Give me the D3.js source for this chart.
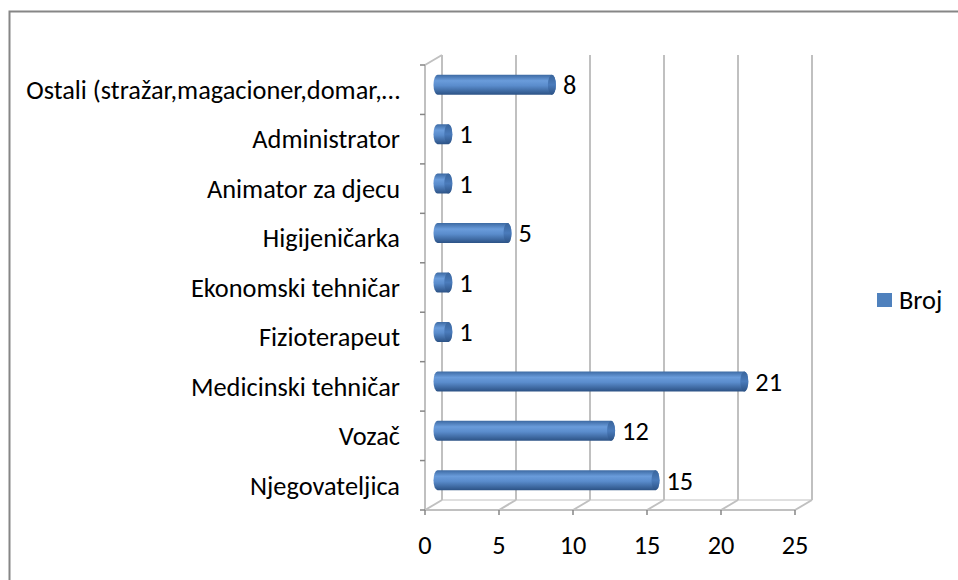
<!DOCTYPE html>
<html>
<head>
<script src="https://d3js.org/d3.v7.min.js"></script>
<style>
  body { margin: 0; background: #fff; }
  text { font-family: Carlito, "Open Sans", Lato, sans-serif; fill: #000; }
</style>
</head>
<body>
<div id="chart"></div>
<script>
// data
var categories = ["Njegovateljica", "Vozač", "Medicinski tehničar", "Fizioterapeut",
  "Ekonomski tehničar", "Higijeničarka", "Animator za djecu", "Administrator",
  "Ostali (stražar,magacioner,domar,…"];
var values = [15, 12, 21, 1, 1, 5, 1, 1, 8];
var xTicks = [0, 5, 10, 15, 20, 25];
var seriesName = "Broj";

var width = 958, height = 580;
var depthX = 17, depthY = -10;   // offset of the back wall

var svg = d3.select("#chart").append("svg")
    .attr("width", width)
    .attr("height", height);

// pick a font size so the labels come out as wide as in the original
var probe = svg.append("text").attr("font-size", 20).text("Njegovateljica");
var fs = 20 * 150 / probe.node().getComputedTextLength();
probe.remove();

// chart frame
svg.append("rect")
    .attr("x", 9.5).attr("y", 11.5)
    .attr("width", 960).attr("height", 580)
    .attr("fill", "none")
    .attr("stroke", "#868686")
    .attr("stroke-width", 2);

var x = d3.scaleLinear().domain([0, 25]).range([425, 795]);
var y = d3.scaleBand().domain(categories).range([510, 65]);

var defs = svg.append("defs");
var grad = defs.append("linearGradient").attr("id", "cyl")
    .attr("x1", 0).attr("y1", 0).attr("x2", 0).attr("y2", 1);
grad.append("stop").attr("offset", "0%").attr("stop-color", "#3d6aa3");
grad.append("stop").attr("offset", "30%").attr("stop-color", "#6a9cdb");
grad.append("stop").attr("offset", "55%").attr("stop-color", "#5a8ccc");
grad.append("stop").attr("offset", "100%").attr("stop-color", "#2c5285");

var capGrad = defs.append("linearGradient").attr("id", "cap")
    .attr("x1", 0).attr("y1", 0).attr("x2", 0).attr("y2", 1);
capGrad.append("stop").attr("offset", "0%").attr("stop-color", "#3a659c");
capGrad.append("stop").attr("offset", "50%").attr("stop-color", "#4a7bbb");
capGrad.append("stop").attr("offset", "100%").attr("stop-color", "#2c5285");

var grid = svg.append("g").attr("stroke", "#c0c0c0").attr("stroke-width", 2).attr("fill", "none");

var y0 = y.range()[0], y1 = y.range()[1];

// back wall gridlines
grid.selectAll(".vgrid").data(xTicks).enter().append("line")
    .attr("x1", function(d) { return x(d) + depthX; })
    .attr("x2", function(d) { return x(d) + depthX; })
    .attr("y1", y1 + depthY)
    .attr("y2", y0 + depthY);

// floor lines
grid.selectAll(".floor").data(xTicks).enter().append("line")
    .attr("x1", function(d) { return x(d); })
    .attr("y1", y0)
    .attr("x2", function(d) { return x(d) + depthX; })
    .attr("y2", y0 + depthY);
grid.append("line")
    .attr("x1", x(0)).attr("x2", x(25))
    .attr("y1", y0).attr("y2", y0);
grid.append("line")
    .attr("x1", x(0) + depthX).attr("x2", x(25) + depthX)
    .attr("y1", y0 + depthY).attr("y2", y0 + depthY)
    .attr("stroke-width", 1);

// side wall
grid.append("line")
    .attr("x1", x(0)).attr("x2", x(0))
    .attr("y1", y1).attr("y2", y0);
grid.append("line")
    .attr("x1", x(0)).attr("y1", y1)
    .attr("x2", x(0) + depthX).attr("y2", y1 + depthY);

// axis ticks
var tickG = svg.append("g").attr("stroke", "#868686").attr("stroke-width", 1.5);
var boundaries = categories.map(function(c) { return y(c); }).concat([y0]);
tickG.selectAll(".yt").data(boundaries).enter().append("line")
    .attr("x1", x(0) - 5).attr("x2", x(0))
    .attr("y1", function(d) { return d; })
    .attr("y2", function(d) { return d; });
tickG.selectAll(".xt").data(xTicks).enter().append("line")
    .attr("x1", function(d) { return x(d); })
    .attr("x2", function(d) { return x(d); })
    .attr("y1", y0).attr("y2", y0 + 5);

// category labels
svg.selectAll(".cat").data(categories).enter().append("text")
    .attr("x", 400)
    .attr("y", function(d) { return y(d) + y.bandwidth() / 2; })
    .attr("dy", "0.35em")
    .attr("text-anchor", "end")
    .attr("font-size", fs)
    .text(function(d) { return d; });

// x tick labels
svg.selectAll(".xl").data(xTicks).enter().append("text")
    .attr("x", function(d) { return x(d); })
    .attr("y", 545)
    .attr("dy", "0.35em")
    .attr("text-anchor", "middle")
    .attr("font-size", fs)
    .text(function(d) { return d; });

// bars as cylinders at mid depth
var barH = 20;
var rx = 4;
var bars = svg.selectAll(".bar").data(values).enter().append("g")
    .attr("transform", function(d, i) {
        var cy = y(categories[i]) + y.bandwidth() / 2 + depthY / 2;
        return "translate(" + (depthX / 2) + "," + cy + ")";
    });

bars.append("path")
    .attr("fill", "url(#cyl)")
    .attr("d", function(d) {
        var xa = x(0), xb = x(d);
        return "M" + (xa + rx) + "," + (-barH / 2) +
            " L" + xb + "," + (-barH / 2) +
            " A" + rx + "," + (barH / 2) + " 0 0 1 " + xb + "," + (barH / 2) +
            " L" + (xa + rx) + "," + (barH / 2) +
            " A" + rx + "," + (barH / 2) + " 0 0 1 " + (xa + rx) + "," + (-barH / 2) + "Z";
    });
bars.append("ellipse")
    .attr("cx", function(d) { return x(d); })
    .attr("cy", 0)
    .attr("rx", rx)
    .attr("ry", barH / 2)
    .attr("fill", "url(#cap)");

bars.append("text")
    .attr("x", function(d) { return x(d) + rx + 7; })
    .attr("y", 0)
    .attr("dy", "0.35em")
    .attr("font-size", fs)
    .text(function(d) { return d; });

// legend
svg.append("rect")
    .attr("x", 877).attr("y", 293)
    .attr("width", 15).attr("height", 14)
    .attr("fill", "#4f81bd");
svg.append("text")
    .attr("x", 899).attr("y", 300)
    .attr("dy", "0.35em")
    .attr("font-size", fs)
    .text(seriesName);
</script>
</body>
</html>
